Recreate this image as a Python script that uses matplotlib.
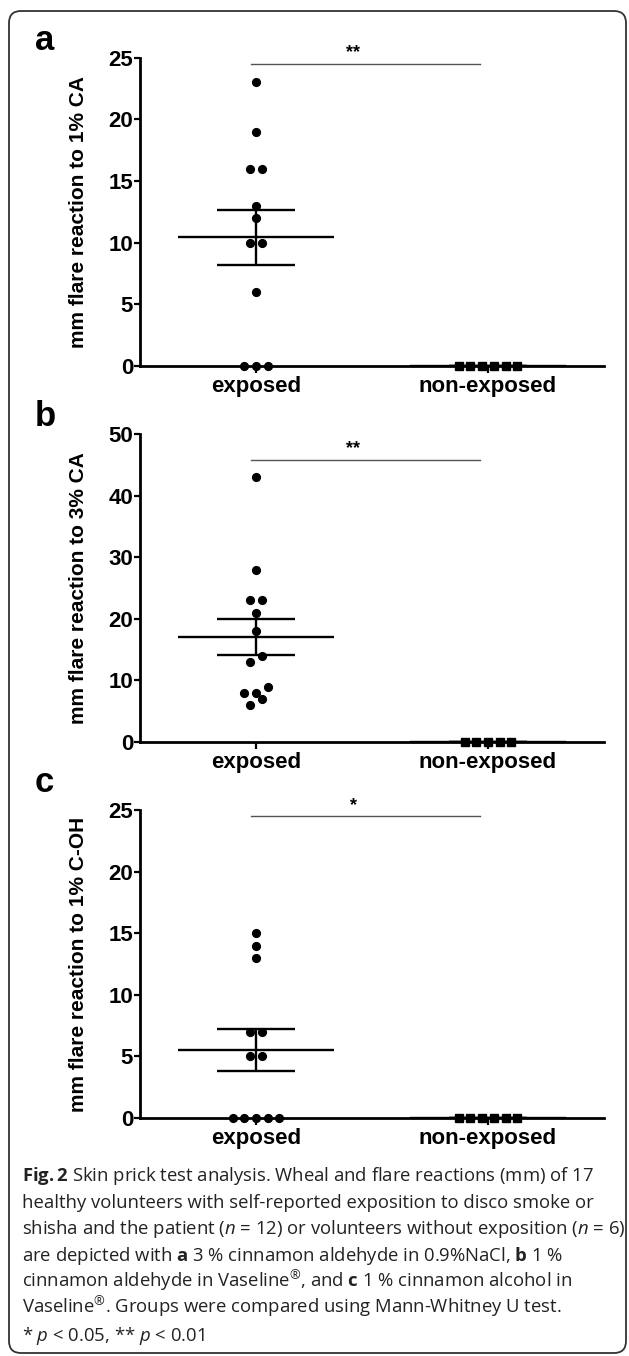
import numpy as np
import matplotlib
matplotlib.use('Agg')
import matplotlib.pyplot as plt
from matplotlib.patches import FancyBboxPatch

# Values (mm flare reaction per volunteer)
group_labels = ['exposed', 'non-exposed']

flare_1pct_ca_exposed = [23, 19, 16, 16, 13, 12, 10, 10, 6, 0, 0, 0]
flare_1pct_ca_non_exposed = [0, 0, 0, 0, 0, 0]

flare_3pct_ca_exposed = [43, 28, 23, 23, 21, 18, 14, 13, 9, 8, 8, 7, 6]
flare_3pct_ca_non_exposed = [0, 0, 0, 0, 0]

flare_1pct_coh_exposed = [15, 14, 13, 7, 7, 5, 5, 0, 0, 0, 0, 0]
flare_1pct_coh_non_exposed = [0, 0, 0, 0, 0, 0]

panel_letters = ['a', 'b', 'c']
y_labels = ['mm flare reaction to 1% CA',
            'mm flare reaction to 3% CA',
            'mm flare reaction to 1% C-OH']
y_max = [25, 50, 25]
y_step = [5, 10, 5]
significance_text = ['**', '**', '*']
significance_level = [24.5, 45.8, 24.5]

caption_lines = [
    r"$\mathbf{Fig.2}$ Skin prick test analysis. Wheal and flare reactions (mm) of 17",
    "healthy volunteers with self-reported exposition to disco smoke or",
    r"shisha and the patient ($\mathit{n}$ = 12) or volunteers without exposition ($\mathit{n}$ = 6)",
    r"are depicted with $\mathbf{a}$ 3 % cinnamon aldehyde in 0.9%NaCl, $\mathbf{b}$ 1 %",
    r"cinnamon aldehyde in Vaseline$^{®}$, and $\mathbf{c}$ 1 % cinnamon alcohol in",
    r"Vaseline$^{®}$. Groups were compared using Mann-Whitney U test.",
    r"* $\mathit{p}$ < 0.05, ** $\mathit{p}$ < 0.01",
]

FIG_W, FIG_H = 629, 1356
AXIS_FONT = 'Liberation Sans'
CAPTION_FONT = 'Open Sans'

plt.rcParams['mathtext.fontset'] = 'custom'
plt.rcParams['mathtext.rm'] = CAPTION_FONT
plt.rcParams['mathtext.it'] = CAPTION_FONT + ':italic'
plt.rcParams['mathtext.bf'] = CAPTION_FONT + ':bold'


def add_px_axes(fig, left, top, right, bottom):
    return fig.add_axes([left / FIG_W, 1 - bottom / FIG_H,
                         (right - left) / FIG_W, (bottom - top) / FIG_H])


def swarm_offsets(values, px_per_y, px_per_x, diameter_px=7.0, gap_px=11.7):
    # rows of points closer than one marker are spread side by side
    values = np.asarray(values, dtype=float)
    order = np.argsort(values, kind='stable')
    offsets = np.zeros(len(values))
    i = 0
    while i < len(order):
        start = values[order[i]]
        row = [order[i]]
        j = i + 1
        while j < len(order) and (values[order[j]] - start) * px_per_y < diameter_px:
            row.append(order[j])
            j += 1
        n = len(row)
        for k, idx in enumerate(row):
            offsets[idx] = (k - (n - 1) / 2) * gap_px / px_per_x
        i = j
    return offsets


def draw_panel(ax, exposed, non_exposed, ymax, ystep, sig_text, sig_level, ax_px):
    left, top, right, bottom = ax_px
    px_per_y = (bottom - top) / ymax
    px_per_x = (right - left) / 2.0

    for xpos, vals, marker, size in [(0, exposed, 'o', 5.6), (1, non_exposed, 's', 5.6)]:
        vals = np.asarray(vals, dtype=float)
        off = swarm_offsets(vals, px_per_y, px_per_x)
        ax.plot(xpos + off, vals, linestyle='none', marker=marker, markersize=size,
                color='black', clip_on=False, zorder=4)

        mean = vals.mean()
        sem = vals.std(ddof=1) / np.sqrt(len(vals))
        ax.hlines(mean, xpos - 0.335, xpos + 0.335, color='black', lw=1.7, zorder=3)
        ax.hlines([mean - sem, mean + sem], xpos - 0.17, xpos + 0.17, color='black', lw=1.7, zorder=3)
        ax.vlines(xpos, mean - sem, mean + sem, color='black', lw=1.7, zorder=3)

    # significance bar
    ax.plot([-0.02, 0.965], [sig_level, sig_level], color='#555555', lw=1.0, clip_on=False)
    ax.text(0.42, sig_level + ymax * 0.008, sig_text, ha='center', va='bottom',
            fontsize=13, fontweight='bold', family=AXIS_FONT, clip_on=False)

    ax.set_xlim(-0.5, 1.5)
    ax.set_ylim(0, ymax)
    ax.set_yticks(np.arange(0, ymax + 1, ystep))
    ax.set_xticks([0, 1])
    ax.set_xticklabels(group_labels)
    for lab in ax.get_xticklabels() + ax.get_yticklabels():
        lab.set_fontweight('bold')
        lab.set_family(AXIS_FONT)
        lab.set_fontsize(16)
    ax.spines['top'].set_visible(False)
    ax.spines['right'].set_visible(False)
    ax.spines['left'].set_linewidth(2.0)
    ax.spines['bottom'].set_linewidth(2.0)
    ax.tick_params(axis='y', width=1.6, length=4, pad=1)
    ax.tick_params(axis='x', width=1.6, length=5, pad=2)
    ax.patch.set_alpha(0)


fig = plt.figure(figsize=(FIG_W / 100, FIG_H / 100), dpi=100)

# background layer in pixel coordinates for frame, letters, labels, caption
bg = fig.add_axes([0, 0, 1, 1])
bg.set_xlim(0, FIG_W)
bg.set_ylim(FIG_H, 0)
bg.axis('off')
bg.add_patch(FancyBboxPatch((9, 11), 617, 1342, boxstyle='round,pad=0,rounding_size=12',
                            fill=False, lw=1.3, ec='#333333'))

panel_px = [(140, 57.5, 604, 366), (140, 434, 604, 742), (140, 810, 604, 1118)]
letter_y = [41, 417, 783]
panel_data = [(flare_1pct_ca_exposed, flare_1pct_ca_non_exposed),
              (flare_3pct_ca_exposed, flare_3pct_ca_non_exposed),
              (flare_1pct_coh_exposed, flare_1pct_coh_non_exposed)]

for i in range(3):
    ax = add_px_axes(fig, *panel_px[i])
    draw_panel(ax, panel_data[i][0], panel_data[i][1], y_max[i], y_step[i],
               significance_text[i], significance_level[i], panel_px[i])
    top, bottom = panel_px[i][1], panel_px[i][3]
    bg.text(79, (top + bottom) / 2, y_labels[i], rotation=90, ha='center', va='center',
            fontsize=15, fontweight='bold', family=AXIS_FONT)
    bg.text(35, letter_y[i], panel_letters[i], ha='left', va='center',
            fontsize=25, fontweight='bold', family=AXIS_FONT)

for k, line in enumerate(caption_lines):
    bg.text(22, 1181 + 26.6 * k, line, ha='left', va='baseline', fontsize=13.3,
            family=CAPTION_FONT, color='#222222')

fig.savefig('out.png', dpi=100)
plt.close(fig)
